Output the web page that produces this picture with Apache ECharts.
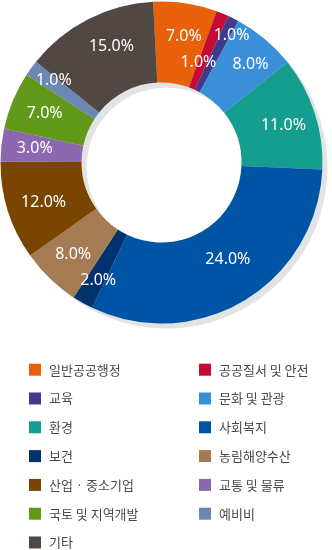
<!DOCTYPE html>
<html>
<head>
<meta charset="utf-8">
<script src="https://cdn.jsdelivr.net/npm/echarts@6/dist/echarts.min.js"></script>
<style>
  html, body { margin: 0; padding: 0; background: #fff; }
  #main { width: 332px; height: 550px; }
</style>
</head>
<body>
<div id="main"></div>
<script>
// 분야별 예산 비율
const categories = ['일반공공행정', '공공질서 및 안전', '교육', '문화 및 관광', '환경', '사회복지', '보건',
    '농림해양수산', '산업 · 중소기업', '교통 및 물류', '국토 및 지역개발', '예비비', '기타'];
// slice sizes as drawn in the picture
const shares = [6.4, 1.25, 1.1, 6.4, 11.4, 31.4, 2.1, 6.0, 9.9, 3.3, 5.8, 1.6, 13.4];
// percentages printed on the slices
const printed = [7, 1, 1, 8, 11, 24, 2, 8, 12, 3, 7, 1, 15];
const colors = ['#e9600b', '#c50a33', '#3f3a8c', '#3b8fd9', '#159d8f', '#0054a6', '#00336e',
    '#a47b52', '#7a4501', '#8b68b0', '#62991a', '#6d87b5', '#514843'];
const shadowRing = [1];

const pieCenter = [161.5, 162.5];
// label nudges: radial (px) and around the ring (deg)
const labelShift = [5, -17, 22, 9, 4, -6, 10, 4, 1, 4, 3, 12, 3];
const labelTurn = [1.5, -2, 2.3, 2.2, 1, -3.4, -1, 0, -1.2, 0, 0, 1.5, 3.8];

var chartDom = document.getElementById('main');
var myChart = echarts.init(chartDom);

let pieData = categories.map((name, i) => {
    return {
        name: name,
        value: shares[i],
        itemStyle: { color: colors[i] },
        label: { formatter: printed[i].toFixed(1) + '%' }
    };
});

let legendBase = {
    orient: 'vertical',
    top: 357.7,
    height: 220,
    itemWidth: 12,
    itemHeight: 12,
    itemGap: 14.8,
    icon: 'rect',
    selectedMode: false,
    textStyle: {
        color: '#4a4a4a',
        fontSize: 13,
        lineHeight: 14,
        fontFamily: 'Noto Sans CJK KR',
        padding: [0, 0, 0, 3]
    }
};

var option = {
    animation: false,
    legend: [
        Object.assign({}, legendBase, { left: 24, data: categories.filter((c, i) => i % 2 == 0) }),
        Object.assign({}, legendBase, { left: 194, data: categories.filter((c, i) => i % 2 == 1) })
    ],
    series: [
        {
            // 그림자 링
            type: 'pie',
            silent: true,
            center: [pieCenter[0] + 5, pieCenter[1] + 5],
            radius: [80, 161],
            label: { show: false },
            itemStyle: { color: '#e3e3e3' },
            data: shadowRing.map((v) => ({ name: '', value: v }))
        },
        {
            type: 'pie',
            center: pieCenter,
            radius: [80, 161],
            startAngle: 93,
            clockwise: true,
            avoidLabelOverlap: false,
            label: {
                show: true,
                position: 'inside',
                color: '#fff',
                fontSize: 16,
                fontFamily: 'Noto Sans'
            },
            labelLine: { show: false },
            labelLayout: function (p) {
                if (p.seriesIndex !== 1) return {};
                let r = p.labelRect;
                let ax = r.x + r.width / 2 - pieCenter[0];
                let ay = r.y + r.height / 2 - pieCenter[1];
                let d = Math.sqrt(ax * ax + ay * ay);
                let t = Math.atan2(ax, -ay) + labelTurn[p.dataIndex] * Math.PI / 180;
                let nd = d + labelShift[p.dataIndex];
                return {
                    dx: nd * Math.sin(t) - ax,
                    dy: -nd * Math.cos(t) - ay
                };
            },
            data: pieData
        }
    ]
};

myChart.setOption(option);
</script>
</body>
</html>
